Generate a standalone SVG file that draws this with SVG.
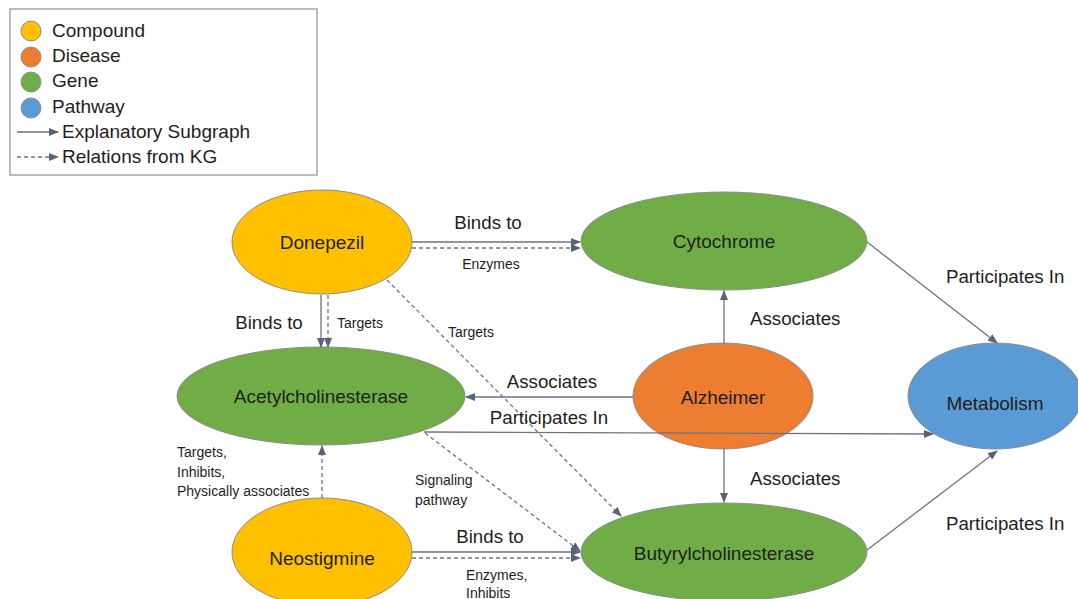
<svg xmlns="http://www.w3.org/2000/svg" width="1078" height="599" viewBox="0 0 1078 599">
<style>
text{font-family:"Liberation Sans",Arial,sans-serif;fill:#1e1e1e}
.nl{font-size:19px;text-anchor:middle}
.el{font-size:18.7px}
.sl{font-size:14px}
.lg{font-size:19px}
.mid{text-anchor:middle}
.node{stroke:#8c8c8c;stroke-width:1}
.cmp{fill:#FFC000}.dis{fill:#ED7D31}.gen{fill:#70AD47}.pwy{fill:#5B9BD5}
.e{stroke:#6b7386;stroke-width:1.3;fill:none;marker-end:url(#ah)}
.d{stroke-dasharray:4 3}
</style>
<defs>
<marker id="ah" markerWidth="10" markerHeight="8" refX="9" refY="4" orient="auto" markerUnits="userSpaceOnUse">
<path d="M0,0 L10,4 L0,8 Z" fill="#5a6275"/>
</marker>
</defs>
<g id="legend">
<rect x="10" y="9" width="307" height="166" fill="#fff" stroke="#a6a6a6" stroke-width="1.5"/>
<circle cx="31" cy="31" r="10" class="node cmp"/>
<circle cx="31" cy="57" r="10" class="node dis"/>
<circle cx="31" cy="82" r="10" class="node gen"/>
<circle cx="31" cy="108" r="10" class="node pwy"/>
<text x="52" y="37" class="lg">Compound</text>
<text x="52" y="62" class="lg">Disease</text>
<text x="52" y="87" class="lg">Gene</text>
<text x="52" y="113" class="lg">Pathway</text>
<line x1="17" y1="132" x2="58" y2="132" class="e"/>
<line x1="17" y1="157" x2="58" y2="157" class="e d"/>
<text x="62" y="138" class="lg">Explanatory Subgraph</text>
<text x="62" y="163" class="lg">Relations from KG</text>
</g>
<g id="n-donepezil"><ellipse cx="322" cy="242" rx="90" ry="52" class="node cmp"/><text x="322" y="249" class="nl">Donepezil</text></g>
<g id="n-cytochrome"><ellipse cx="724" cy="241" rx="143" ry="49" class="node gen"/><text x="724" y="248" class="nl">Cytochrome</text></g>
<g id="n-acetylcholinesterase"><ellipse cx="321" cy="396" rx="144" ry="49" class="node gen"/><text x="321" y="403" class="nl">Acetylcholinesterase</text></g>
<g id="n-alzheimer"><ellipse cx="723" cy="396" rx="90" ry="53" class="node dis"/><text x="723" y="404" class="nl">Alzheimer</text></g>
<g id="n-metabolism"><ellipse cx="995" cy="396" rx="87" ry="53" class="node pwy"/><text x="995" y="410" class="nl">Metabolism</text></g>
<g id="n-neostigmine"><ellipse cx="322" cy="552" rx="90" ry="54" class="node cmp"/><text x="322" y="565" class="nl">Neostigmine</text></g>
<g id="n-butyrylcholinesterase"><ellipse cx="724" cy="552" rx="143" ry="49" class="node gen"/><text x="724" y="560" class="nl">Butyrylcholinesterase</text></g>
<g id="connectors">
<line x1="412" y1="242" x2="580" y2="242" class="e"/>
<line x1="412" y1="248" x2="580" y2="248" class="e d"/>
<line x1="321" y1="295" x2="321" y2="347" class="e"/>
<line x1="328" y1="295" x2="328" y2="347" class="e d"/>
<line x1="387" y1="280" x2="621" y2="516" class="e d"/>
<line x1="724" y1="343" x2="724" y2="291" class="e"/>
<line x1="633" y1="397" x2="466" y2="397" class="e"/>
<line x1="424" y1="432" x2="933" y2="434" class="e"/>
<line x1="724" y1="449" x2="724" y2="502" class="e"/>
<line x1="867" y1="242" x2="997" y2="343" class="e"/>
<line x1="867" y1="550" x2="997" y2="451" class="e"/>
<line x1="425" y1="433" x2="580" y2="551" class="e d"/>
<line x1="322" y1="498" x2="322" y2="446" class="e d"/>
<line x1="412" y1="552" x2="580" y2="552" class="e"/>
<line x1="412" y1="558" x2="580" y2="558" class="e d"/>
<text x="488" y="229" class="el mid">Binds to</text>
<text x="491" y="269" class="sl mid">Enzymes</text>
<text x="269" y="329" class="el mid">Binds to</text>
<text x="360" y="328" class="sl mid">Targets</text>
<text x="471" y="337" class="sl mid">Targets</text>
<text x="750" y="325" class="el">Associates</text>
<text x="552" y="388" class="el mid">Associates</text>
<text x="549" y="424" class="el mid">Participates In</text>
<text x="750" y="485" class="el">Associates</text>
<text x="946" y="283" class="el">Participates In</text>
<text x="946" y="530" class="el">Participates In</text>
<text x="177" y="457" class="sl">Targets,</text>
<text x="177" y="477" class="sl">Inhibits,</text>
<text x="177" y="496" class="sl">Physically associates</text>
<text x="415" y="485" class="sl">Signaling</text>
<text x="415" y="505" class="sl">pathway</text>
<text x="490" y="543" class="el mid">Binds to</text>
<text x="466" y="580" class="sl">Enzymes,</text>
<text x="466" y="598" class="sl">Inhibits</text>
</g>
</svg>
